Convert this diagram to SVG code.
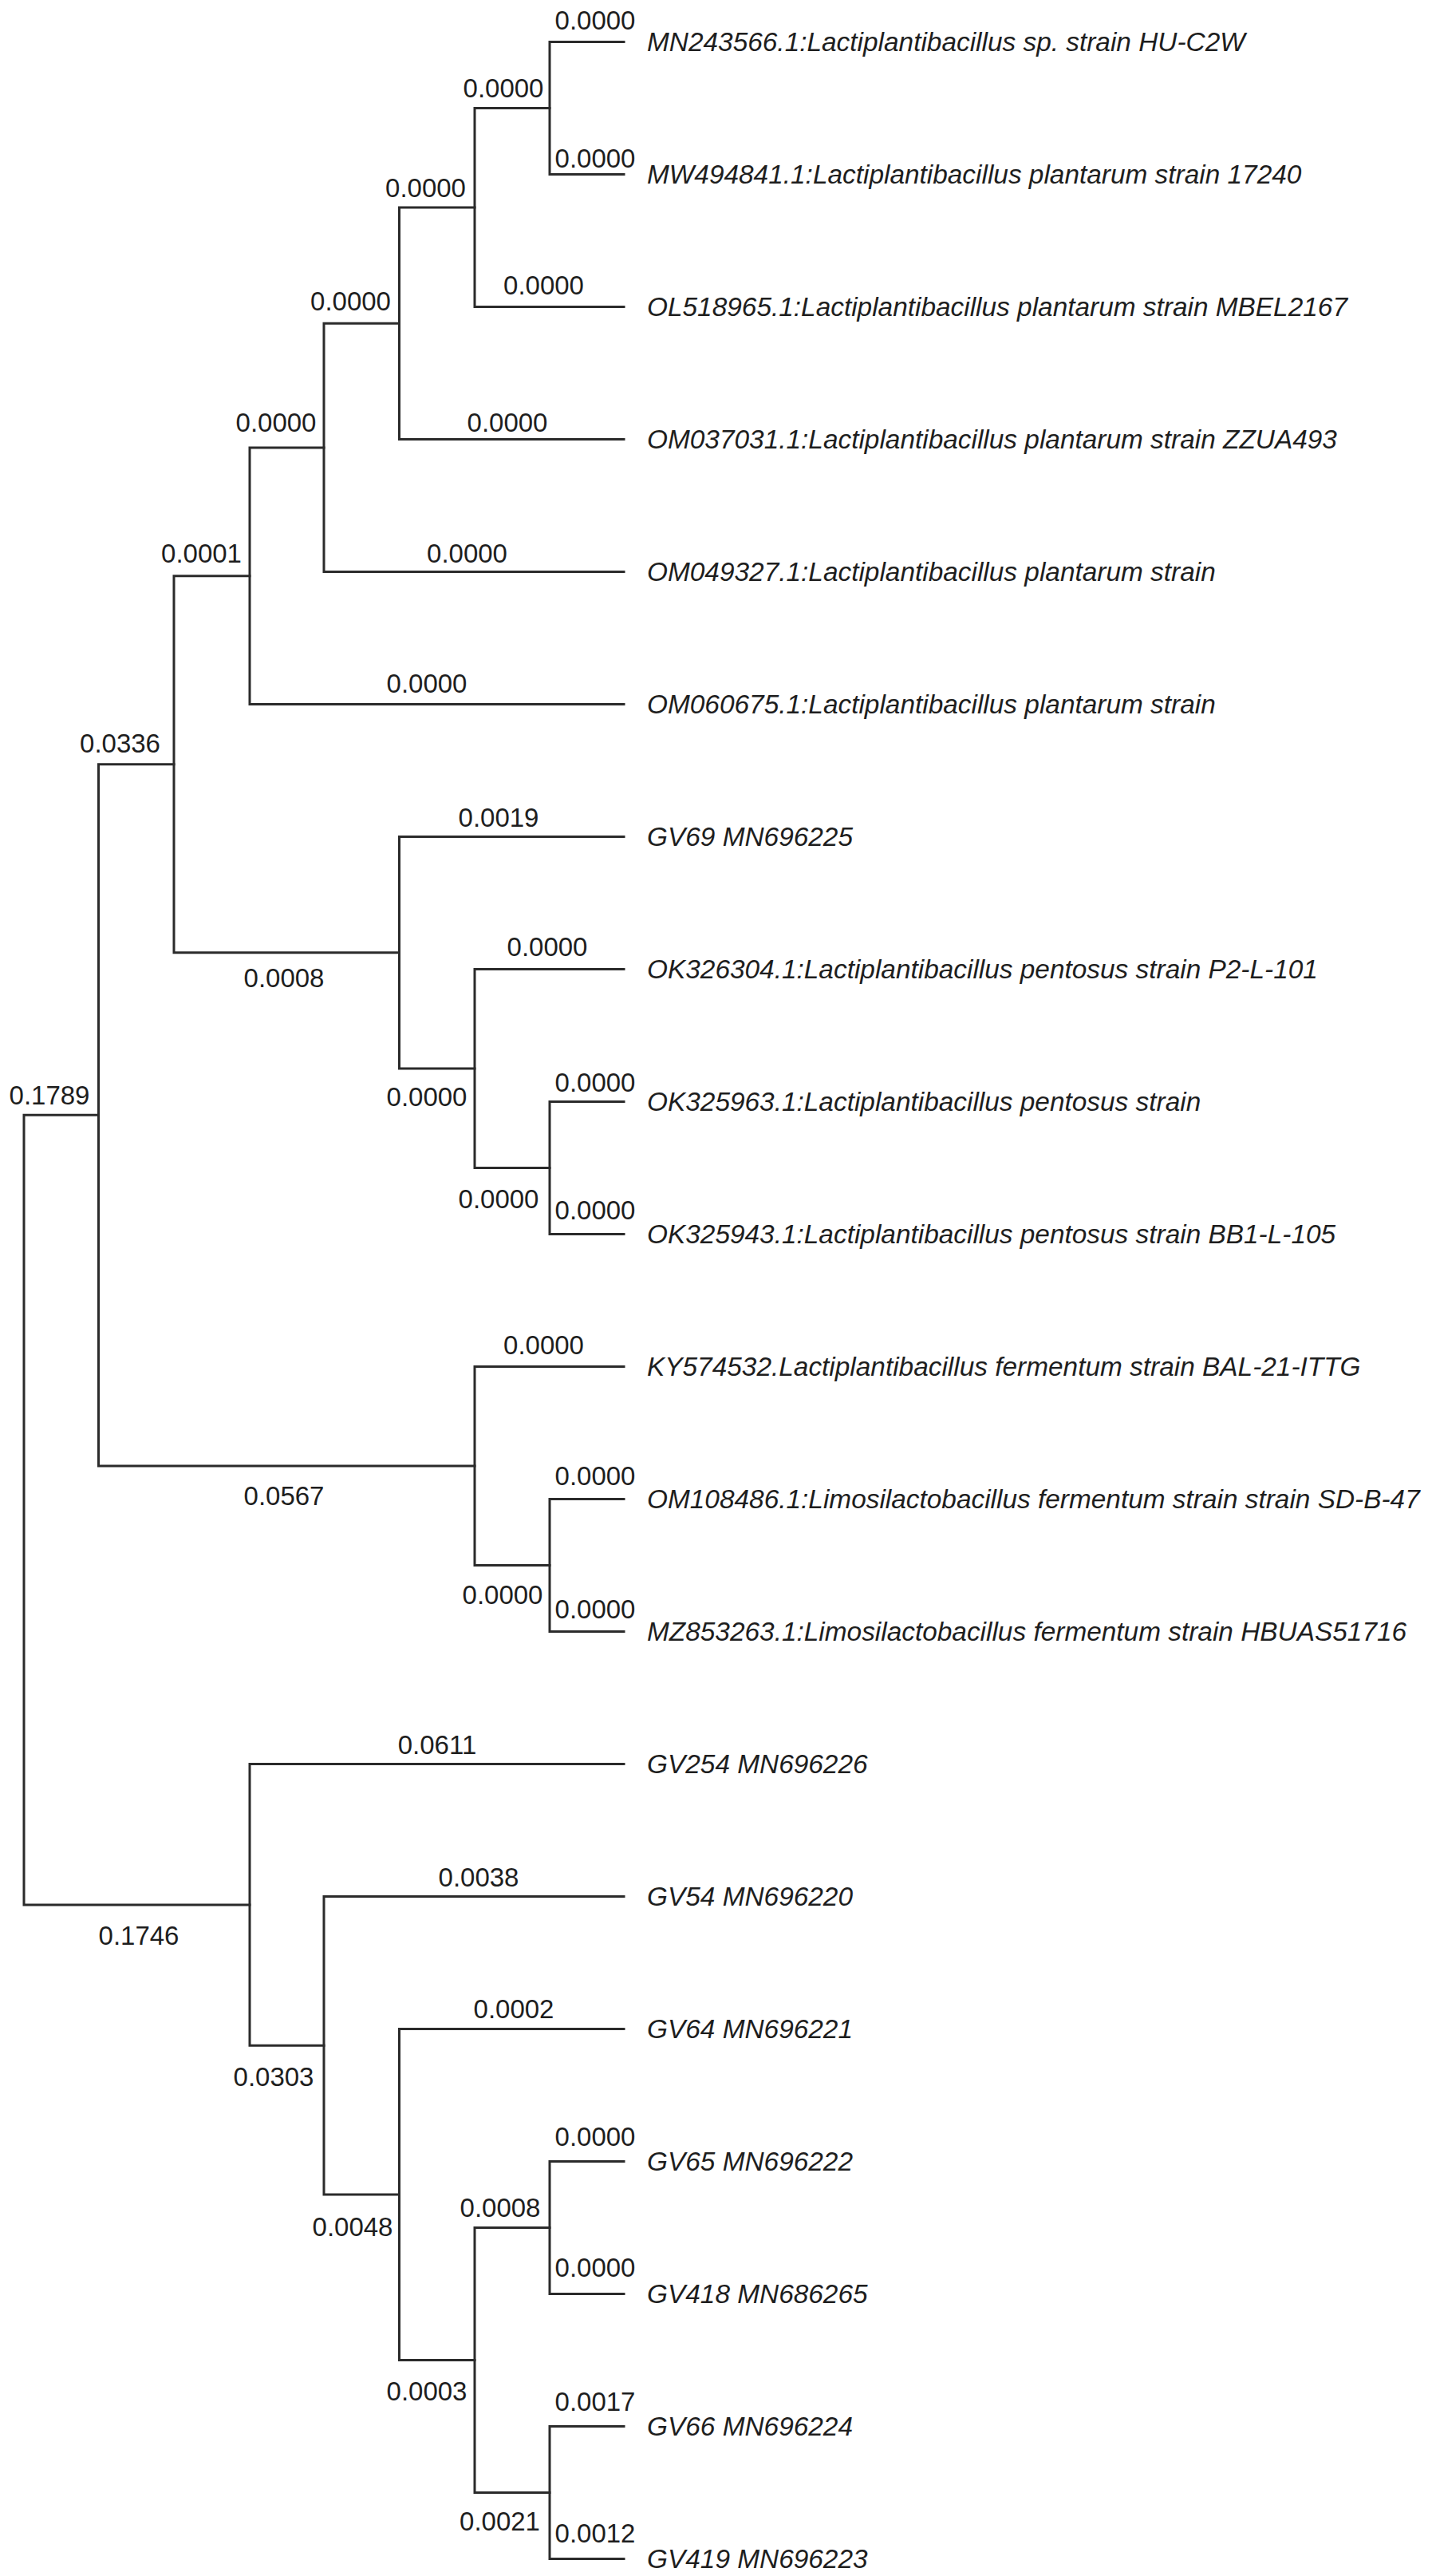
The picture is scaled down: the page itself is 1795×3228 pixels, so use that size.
<svg xmlns="http://www.w3.org/2000/svg" width="1795" height="3228" viewBox="0 0 1795 3228">
<style>
.br{fill:none;stroke:#2b2b2b;stroke-width:3;stroke-linecap:square}
.num{font-family:"Liberation Sans",Arial,sans-serif;font-size:33px;fill:#1e1e1e;text-anchor:middle}
.leaf{font-family:"Liberation Sans",Arial,sans-serif;font-size:33.4px;font-style:italic;fill:#1e1e1e}
</style>
<rect width="1795" height="3228" fill="#fff"/>
<g id="connectors">
<path class="br" d="M782 52.5H689V218.5H782"/>
<path class="br" d="M689 135.5H595V384.5H782"/>
<path class="br" d="M595 260H500.5V550.5H782"/>
<path class="br" d="M500.5 405.25H406V716.5H782"/>
<path class="br" d="M406 560.9H313V882.5H782"/>
<path class="br" d="M782 1380.5H689V1546.5H782"/>
<path class="br" d="M782 1214.5H595V1463.5H689"/>
<path class="br" d="M782 1048.5H500.5V1339H595"/>
<path class="br" d="M313 721.7H218V1193.75H500.5"/>
<path class="br" d="M782 1878.5H689V2044.5H782"/>
<path class="br" d="M782 1712.5H595V1961.5H689"/>
<path class="br" d="M218 957.7H123.5V1837H595"/>
<path class="br" d="M782 2708.5H689V2874.5H782"/>
<path class="br" d="M782 3040.5H689V3206.5H782"/>
<path class="br" d="M689 2791.5H595V3123.5H689"/>
<path class="br" d="M782 2542.5H500.5V2957.5H595"/>
<path class="br" d="M782 2376.5H406V2750H500.5"/>
<path class="br" d="M782 2210.5H313V2563.25H406"/>
<path class="br" d="M123.5 1397.35H30V2386.9H313"/>
</g>
<g id="branch-lengths">
<text class="num" x="746" y="37">0.0000</text>
<text class="num" x="631" y="121.5">0.0000</text>
<text class="num" x="746" y="209.5">0.0000</text>
<text class="num" x="533.5" y="247">0.0000</text>
<text class="num" x="681.5" y="368.5">0.0000</text>
<text class="num" x="439.5" y="389">0.0000</text>
<text class="num" x="346" y="541">0.0000</text>
<text class="num" x="636" y="541">0.0000</text>
<text class="num" x="252.5" y="705">0.0001</text>
<text class="num" x="585.5" y="705">0.0000</text>
<text class="num" x="535" y="868">0.0000</text>
<text class="num" x="150.5" y="943">0.0336</text>
<text class="num" x="625" y="1035.5">0.0019</text>
<text class="num" x="686" y="1198">0.0000</text>
<text class="num" x="356" y="1236.5">0.0008</text>
<text class="num" x="62" y="1383.5">0.1789</text>
<text class="num" x="535" y="1386">0.0000</text>
<text class="num" x="746" y="1367.5">0.0000</text>
<text class="num" x="625" y="1514">0.0000</text>
<text class="num" x="746" y="1528">0.0000</text>
<text class="num" x="681.5" y="1697">0.0000</text>
<text class="num" x="356" y="1886">0.0567</text>
<text class="num" x="746" y="1861">0.0000</text>
<text class="num" x="630" y="2010">0.0000</text>
<text class="num" x="746" y="2028">0.0000</text>
<text class="num" x="548" y="2197.5">0.0611</text>
<text class="num" x="174" y="2437">0.1746</text>
<text class="num" x="600" y="2363.5">0.0038</text>
<text class="num" x="343" y="2614">0.0303</text>
<text class="num" x="644" y="2528.5">0.0002</text>
<text class="num" x="746" y="2688.5">0.0000</text>
<text class="num" x="442" y="2802">0.0048</text>
<text class="num" x="627" y="2778">0.0008</text>
<text class="num" x="746" y="2853">0.0000</text>
<text class="num" x="535" y="3008">0.0003</text>
<text class="num" x="746" y="3021">0.0017</text>
<text class="num" x="626.5" y="3171">0.0021</text>
<text class="num" x="746" y="3186">0.0012</text>
</g>
<g id="leaf-MN243566"><text class="leaf" x="811" y="64">MN243566.1:Lactiplantibacillus sp. strain HU-C2W</text></g>
<g id="leaf-MW494841"><text class="leaf" x="811" y="230">MW494841.1:Lactiplantibacillus plantarum strain 17240</text></g>
<g id="leaf-OL518965"><text class="leaf" x="811" y="396">OL518965.1:Lactiplantibacillus plantarum strain MBEL2167</text></g>
<g id="leaf-OM037031"><text class="leaf" x="811" y="562">OM037031.1:Lactiplantibacillus plantarum strain ZZUA493</text></g>
<g id="leaf-OM049327"><text class="leaf" x="811" y="728">OM049327.1:Lactiplantibacillus plantarum strain</text></g>
<g id="leaf-OM060675"><text class="leaf" x="811" y="894">OM060675.1:Lactiplantibacillus plantarum strain</text></g>
<g id="leaf-GV69"><text class="leaf" x="811" y="1060">GV69 MN696225</text></g>
<g id="leaf-OK326304"><text class="leaf" x="811" y="1226">OK326304.1:Lactiplantibacillus pentosus strain P2-L-101</text></g>
<g id="leaf-OK325963"><text class="leaf" x="811" y="1392">OK325963.1:Lactiplantibacillus pentosus strain</text></g>
<g id="leaf-OK325943"><text class="leaf" x="811" y="1558">OK325943.1:Lactiplantibacillus pentosus strain BB1-L-105</text></g>
<g id="leaf-KY574532"><text class="leaf" x="811" y="1724">KY574532.Lactiplantibacillus fermentum strain BAL-21-ITTG</text></g>
<g id="leaf-OM108486"><text class="leaf" x="811" y="1890">OM108486.1:Limosilactobacillus fermentum strain strain SD-B-47</text></g>
<g id="leaf-MZ853263"><text class="leaf" x="811" y="2056">MZ853263.1:Limosilactobacillus fermentum strain HBUAS51716</text></g>
<g id="leaf-GV254"><text class="leaf" x="811" y="2222">GV254 MN696226</text></g>
<g id="leaf-GV54"><text class="leaf" x="811" y="2388">GV54 MN696220</text></g>
<g id="leaf-GV64"><text class="leaf" x="811" y="2554">GV64 MN696221</text></g>
<g id="leaf-GV65"><text class="leaf" x="811" y="2720">GV65 MN696222</text></g>
<g id="leaf-GV418"><text class="leaf" x="811" y="2886">GV418 MN686265</text></g>
<g id="leaf-GV66"><text class="leaf" x="811" y="3052">GV66 MN696224</text></g>
<g id="leaf-GV419"><text class="leaf" x="811" y="3218">GV419 MN696223</text></g>
</svg>
